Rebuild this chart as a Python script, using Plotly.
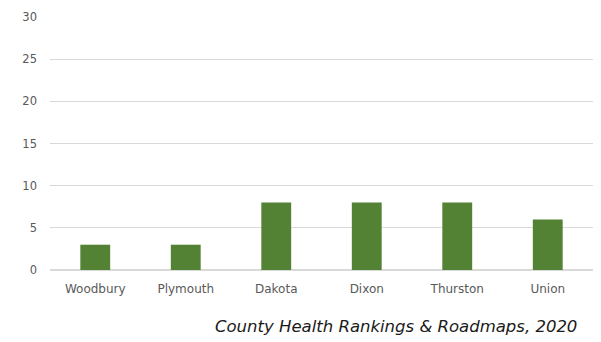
import plotly.graph_objects as go

counties = ["Woodbury", "Plymouth", "Dakota", "Dixon", "Thurston", "Union"]
values = [3, 3, 8, 8, 8, 6]
y_ticks = [0, 5, 10, 15, 20, 25, 30]
source = "County Health Rankings & Roadmaps, 2020"

FONT = "DejaVu Sans, Verdana, sans-serif"

fig = go.Figure()
fig.add_trace(go.Bar(
    x=counties,
    y=values,
    marker=dict(color="#548235", line=dict(width=0)),
))

# page body has an 8px margin, so the figure is shifted by that much
fig.update_layout(
    width=585,
    height=334,
    margin=dict(l=42, r=0, t=9, b=72),
    paper_bgcolor="white",
    plot_bgcolor="white",
    showlegend=False,
    bargap=0.67,
    font=dict(family=FONT, size=11, color="#595959"),
)
fig.update_yaxes(
    range=[0, 30],
    tickvals=y_ticks,
    showgrid=True,
    gridcolor="#d9d9d9",
    gridwidth=1,
    zeroline=True,
    zerolinecolor="#d9d9d9",
    showline=False,
    ticks="",
    ticklabelstandoff=12,
    tickfont=dict(size=11.5, color="#595959"),
)
fig.update_xaxes(
    showline=False,
    ticks="",
    tickfont=dict(size=12, color="#595959"),
    ticklabelstandoff=10,
)
fig.add_annotation(
    text="<i>" + source + "</i>",
    xref="paper", yref="paper",
    x=0.975, y=-0.225,
    xanchor="right", yanchor="middle",
    showarrow=False,
    font=dict(size=16.5, color="#1a1a1a", family=FONT),
)

fig.write_html("out.html")
